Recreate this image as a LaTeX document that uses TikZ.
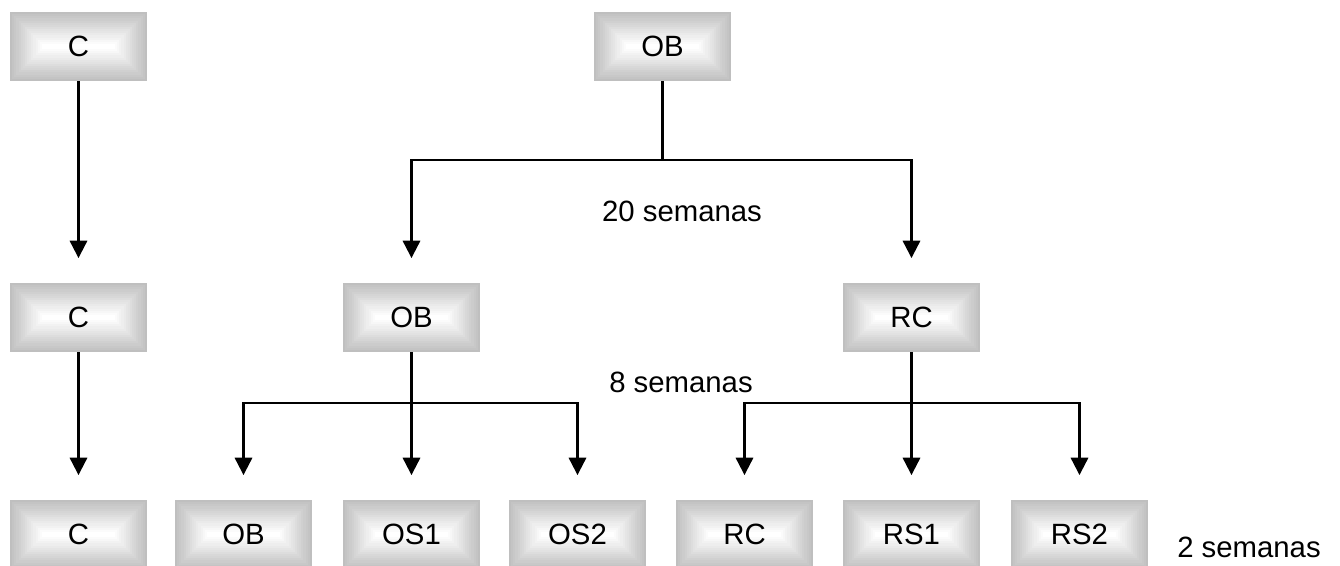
\documentclass[tikz,border=0pt]{standalone}
\usepackage{fontspec}
\setmainfont{Liberation Sans}
\usepackage{tikz}
\usetikzlibrary{arrows.meta, calc, positioning}

\definecolor{boxgray}{RGB}{191, 191, 191}

\tikzset{
  fase/.style={minimum width=102.75pt, minimum height=51.75pt, inner sep=0pt,
    font=\fontsize{22}{26}\selectfont,
    path picture={
      % nested rectangles, grey at the rim fading to white in the middle
      \foreach \k [evaluate=\k as \p using {int(100-100*\k/15)}] in {0,...,15}{
        \fill[boxgray!\p!white]
          ($(path picture bounding box.south west)+(\k*1.6pt,\k*1.6pt)$) rectangle
          ($(path picture bounding box.north east)-(\k*1.6pt,\k*1.6pt)$);
      }}},
  flecha/.style={line width=1.6pt, -{Triangle[length=13pt, width=13pt]}, shorten >=18.5pt},
  rama/.style={line width=1.6pt},
  etiqueta/.style={font=\fontsize{22}{26}\selectfont, anchor=base}
}

\begin{document}
\begin{tikzpicture}[x=0.75pt, y=-0.75pt]
  \useasboundingbox (0, 0) rectangle (1340, 566);

  % top row
  \node[fase] (c0)  at (78.5, 46.5)  {C};
  \node[fase] (ob0) at (662.5, 46.5) {OB};

  % middle row
  \node[fase] (c1)  at (78.5, 317.5)  {C};
  \node[fase] (ob1) at (411.5, 317.5) {OB};
  \node[fase] (rc1) at (911.5, 317.5) {RC};

  % bottom row
  \node[fase] (c2)  at (78.5, 534.5)   {C};
  \node[fase] (ob2) at (243.5, 534.5)  {OB};
  \node[fase] (os1) at (411.5, 534.5)  {OS1};
  \node[fase] (os2) at (577.5, 534.5)  {OS2};
  \node[fase] (rc2) at (744.5, 534.5)  {RC};
  \node[fase] (rs1) at (911.5, 534.5)  {RS1};
  \node[fase] (rs2) at (1079.5, 534.5) {RS2};

  % C stays C
  \draw[flecha] (c0) -- (c1);
  \draw[flecha] (c1) -- (c2);

  % OB splits after 20 weeks
  \coordinate (split0) at (662.5, 160);
  \draw[rama] (ob0) -- (split0);
  \draw[flecha] (split0) -| (ob1);
  \draw[flecha] (split0) -| (rc1);
  \node[etiqueta] (t20) at (682, 222) {20 semanas};

  % second split after 8 weeks
  \coordinate (split1) at (411.5, 403);
  \coordinate (split2) at (911.5, 403);
  \draw[flecha] (ob1) -- (os1);
  \draw[flecha] (split1) -| (ob2);
  \draw[flecha] (split1) -| (os2);
  \draw[flecha] (rc1) -- (rs1);
  \draw[flecha] (split2) -| (rc2);
  \draw[flecha] (split2) -| (rs2);
  \node[etiqueta] (t8) at (681, 393) {8 semanas};

  \node[etiqueta] (t2) at (1249, 558) {2 semanas};
\end{tikzpicture}
\end{document}
